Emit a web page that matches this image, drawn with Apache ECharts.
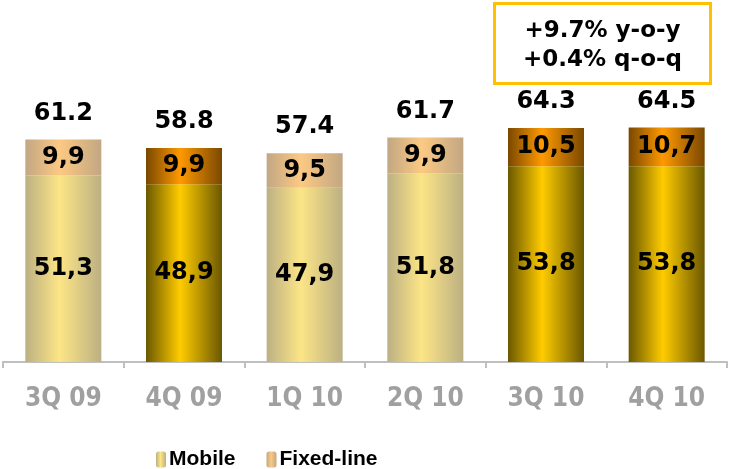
<!DOCTYPE html>
<html>
<head>
<meta charset="utf-8">
<script src="https://cdn.jsdelivr.net/npm/echarts@6/dist/echarts.min.js"></script>
<style>
  html, body { margin: 0; padding: 0; background: #fff; }
  #chart { width: 731px; height: 469px; }
</style>
</head>
<body>
<div id="chart"></div>
<script>
// Quarterly revenue split, mobile vs fixed-line
const categories = ['3Q 09', '4Q 09', '1Q 10', '2Q 10', '3Q 10', '4Q 10'];
const mobile = [51.3, 48.9, 47.9, 51.8, 53.8, 53.8];
const fixedLine = [9.9, 9.9, 9.5, 9.9, 10.5, 10.7];
const totals = [61.2, 58.8, 57.4, 61.7, 64.3, 64.5];
const growthNotes = ['+9.7% y-o-y', '+0.4% q-o-q'];

// Quarters drawn in the saturated palette
const strongBars = new Set([1, 4, 5]);

function barGradient(edge, centre) {
  return new echarts.graphic.LinearGradient(0, 0, 1, 0, [
    { offset: 0, color: edge },
    { offset: 0.45, color: centre },
    { offset: 1, color: edge }
  ]);
}
const palette = {
  mobilePale: ['#BCB083', '#FCE586'],
  mobileStrong: ['#6B5800', '#FFCC00'],
  fixedPale: ['#C2A784', '#FCC983'],
  fixedStrong: ['#7A4800', '#FF9900']
};

const narrowFamily = "'DejaVu Sans Condensed', 'Liberation Sans', sans-serif";
const valueFont = { fontFamily: 'DejaVu Sans', fontWeight: 'bold', fontSize: 24, color: '#000' };
const commaFmt = p => String(p.value).replace('.', ',');

const chart = echarts.init(document.getElementById('chart'));
chart.setOption({
  animation: false,
  grid: { left: 3, right: 4, top: 71, bottom: 107 },
  legend: {
    left: 156, top: 449, padding: 0,
    itemWidth: 10, itemHeight: 16, itemGap: 31,
    textStyle: { fontFamily: 'Liberation Sans', fontWeight: 'bold', fontSize: 21, color: '#000', padding: [0, 0, 0, -2] },
    data: [
      { name: 'Mobile', itemStyle: { color: barGradient(palette.mobilePale[0], palette.mobilePale[1]) } },
      { name: 'Fixed-line', itemStyle: { color: barGradient(palette.fixedPale[0], palette.fixedPale[1]) } }
    ]
  },
  xAxis: {
    type: 'category',
    data: categories,
    axisLine: { lineStyle: { color: '#BFBFBF', width: 2 } },
    axisTick: { show: true, length: 6, lineStyle: { color: '#BFBFBF', width: 2 } },
    axisLabel: {
      margin: 24,
      fontFamily: narrowFamily, fontWeight: 'bold', fontSize: 26, color: '#A0A0A0'
    }
  },
  yAxis: { type: 'value', min: 0, max: 80, show: false, splitLine: { show: false } },
  series: [
    {
      name: 'Mobile', type: 'bar', stack: 'rev', barWidth: 76,
      data: mobile.map((v, i) => ({
        value: v,
        itemStyle: { color: strongBars.has(i)
          ? barGradient(palette.mobileStrong[0], palette.mobileStrong[1])
          : barGradient(palette.mobilePale[0], palette.mobilePale[1]) }
      })),
      label: { show: true, position: 'inside', formatter: commaFmt, ...valueFont }
    },
    {
      name: 'Fixed-line', type: 'bar', stack: 'rev', barWidth: 76,
      data: fixedLine.map((v, i) => ({
        value: v,
        itemStyle: { color: strongBars.has(i)
          ? barGradient(palette.fixedStrong[0], palette.fixedStrong[1])
          : barGradient(palette.fixedPale[0], palette.fixedPale[1]) }
      })),
      label: { show: true, position: 'inside', formatter: commaFmt, ...valueFont }
    },
    {
      name: 'Total', type: 'bar', barWidth: 76, barGap: '-100%', z: 0,
      data: totals,
      itemStyle: { color: 'rgba(0,0,0,0)' },
      label: {
        show: true, position: 'top', distance: 14,
        formatter: p => p.value.toFixed(1), ...valueFont
      },
      tooltip: { show: false }
    }
  ],
  graphic: [
    {
      type: 'group', left: 493, top: 2,
      children: [
        { type: 'rect', shape: { x: 0, y: 0, width: 216, height: 80 },
          style: { fill: '#fff', stroke: '#FFC000', lineWidth: 3 } },
        { type: 'text', x: 108, y: 28,
          style: { text: growthNotes[0], align: 'center', verticalAlign: 'middle',
            fontFamily: 'DejaVu Sans', fontWeight: 'bold', fontSize: 23, fill: '#000' } },
        { type: 'text', x: 108, y: 57,
          style: { text: growthNotes[1], align: 'center', verticalAlign: 'middle',
            fontFamily: 'DejaVu Sans', fontWeight: 'bold', fontSize: 23, fill: '#000' } }
      ]
    }
  ]
});
</script>
</body>
</html>
